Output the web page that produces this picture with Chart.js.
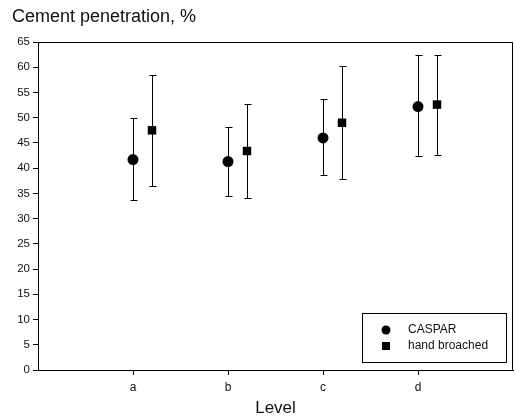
<!DOCTYPE html>
<html>
<head>
<meta charset="utf-8">
<script src="https://cdn.jsdelivr.net/npm/chart.js@4/dist/chart.umd.min.js"></script>
<style>
html,body{margin:0;padding:0;background:#fff;}
#wrap{width:515px;height:420px;position:relative;}
</style>
</head>
<body>
<div id="wrap"><canvas id="c" width="515" height="420"></canvas></div>
<script>
const categories = ['a', 'b', 'c', 'd'];
const seriesNames = ['CASPAR', 'hand broached'];
const casparMean = [41.7, 41.3, 46.0, 52.2];
const casparUpper = [49.9, 48.2, 53.7, 62.4];
const casparLower = [33.6, 34.4, 38.6, 42.4];
const handMean = [47.5, 43.4, 49.0, 52.6];
const handUpper = [58.5, 52.7, 60.2, 62.5];
const handLower = [36.4, 34.0, 37.9, 42.7];
const yTicks = [0, 5, 10, 15, 20, 25, 30, 35, 40, 45, 50, 55, 60, 65];

const handOffset = 0.2;
function pts(means, lo, hi, off) {
  return means.map((m, i) => ({x: i + 1 + off, y: m, lo: lo[i], hi: hi[i]}));
}

const extras = {
  id: 'extras',
  beforeDatasetsDraw(chart) {
    const {ctx, chartArea: a} = chart;
    ctx.save();
    ctx.strokeStyle = '#000';
    ctx.lineWidth = 1;
    ctx.strokeRect(a.left + 0.5, a.top + 0.5, a.right - a.left - 1, a.bottom - a.top);
    const xs = chart.scales.x, ys = chart.scales.y;
    chart.data.datasets.forEach(ds => {
      ds.data.forEach(p => {
        const x = Math.round(xs.getPixelForValue(p.x)) + 0.5;
        const yh = Math.round(ys.getPixelForValue(p.hi)) + 0.5;
        const yl = Math.round(ys.getPixelForValue(p.lo)) + 0.5;
        ctx.beginPath();
        ctx.moveTo(x, yh); ctx.lineTo(x, yl);
        ctx.moveTo(x - 3, yh); ctx.lineTo(x + 4, yh);
        ctx.moveTo(x - 3, yl); ctx.lineTo(x + 4, yl);
        ctx.stroke();
      });
    });
    ctx.restore();
  },
  afterDraw(chart) {
    const {ctx} = chart;
    ctx.save();
    ctx.fillStyle = '#111';
    ctx.font = '18px "Liberation Sans", Arial, sans-serif';
    ctx.textBaseline = 'middle';
    ctx.textAlign = 'left';
    ctx.fillText('Cement penetration, %', 12, 17);
    const bx = 362, by = 313, bw = 144, bh = 49;
    ctx.fillStyle = '#fff';
    ctx.fillRect(bx, by, bw, bh);
    ctx.strokeStyle = '#000';
    ctx.lineWidth = 1;
    ctx.strokeRect(bx + 0.5, by + 0.5, bw, bh);
    ctx.fillStyle = '#000';
    ctx.beginPath();
    ctx.arc(386, 330, 4.5, 0, Math.PI * 2);
    ctx.fill();
    ctx.fillRect(382, 342, 8, 8);
    ctx.font = '12px "Liberation Sans", Arial, sans-serif';
    ctx.fillStyle = '#111';
    ctx.fillText(chart.data.datasets[0].label, 408, 330);
    ctx.fillText(chart.data.datasets[1].label, 408, 346);
    ctx.restore();
  }
};

new Chart(document.getElementById('c'), {
  type: 'scatter',
  data: {
    datasets: [
      {label: seriesNames[0], data: pts(casparMean, casparLower, casparUpper, 0),
       pointStyle: 'circle', pointRadius: 5.5, backgroundColor: '#000', borderColor: '#000', borderWidth: 0},
      {label: seriesNames[1], data: pts(handMean, handLower, handUpper, handOffset),
       pointStyle: 'rect', pointRadius: 6, backgroundColor: '#000', borderColor: '#000', borderWidth: 0}
    ]
  },
  options: {
    responsive: false,
    animation: false,
    events: [],
    layout: {autoPadding: false, padding: {top: 42, right: 2, left: 0, bottom: 1}},
    plugins: {legend: {display: false}, tooltip: {enabled: false}, title: {display: false}},
    scales: {
      x: {
        type: 'linear', min: 0, max: 5,
        afterBuildTicks(s) { s.ticks = categories.map((c, i) => ({value: i + 1})); },
        afterFit(s) { s.height = 49; },
        ticks: {
          callback: (v) => categories[v - 1] || '',
          color: '#111', font: {size: 12, family: '"Liberation Sans", Arial, sans-serif'},
          padding: 5, maxRotation: 0, autoSkip: false
        },
        grid: {drawOnChartArea: false, tickLength: 5, color: '#000'},
        border: {color: '#000'},
        title: {display: true, text: 'Level', color: '#111',
          font: {size: 17, family: '"Liberation Sans", Arial, sans-serif'}, padding: {top: 0, bottom: 0}}
      },
      y: {
        min: 0, max: 65,
        afterBuildTicks(s) { s.ticks = yTicks.map(v => ({value: v})); },
        afterFit(s) { s.width = 38; },
        ticks: {color: '#111', font: {size: 11.5, family: '"Liberation Sans", Arial, sans-serif'}, padding: 3},
        grid: {drawOnChartArea: false, tickLength: 5, color: '#000'},
        border: {color: '#000'}
      }
    }
  },
  plugins: [extras]
});
</script>
</body>
</html>
